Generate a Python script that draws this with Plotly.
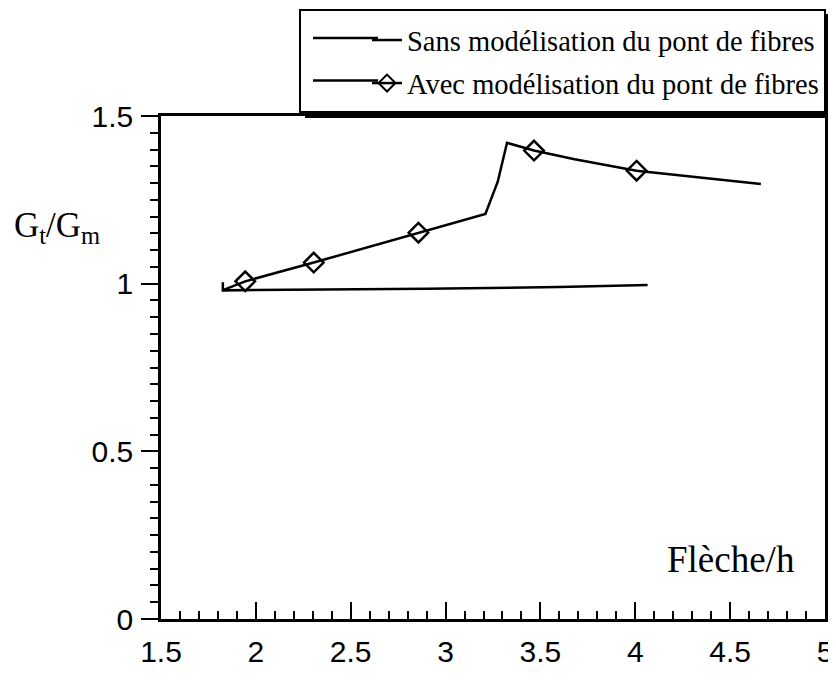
import plotly.graph_objects as go

# Data
sans_x = [1.826, 1.826, 2.9, 3.6, 4.065]
sans_y = [1.004, 0.980, 0.985, 0.990, 0.996]

avec_x = [1.826, 1.944, 2.305, 2.857, 3.210, 3.275, 3.324, 3.466, 3.680, 4.007, 4.662]
avec_y = [0.981, 1.007, 1.063, 1.152, 1.208, 1.304, 1.420, 1.397, 1.371, 1.337, 1.297]

diam_x = [1.944, 2.305, 2.857, 3.466, 4.007]
diam_y = [1.007, 1.063, 1.152, 1.397, 1.337]

x_ticks = [1.5, 2, 2.5, 3, 3.5, 4, 4.5, 5]
x_labels = ["1.5", "2", "2.5", "3", "3.5", "4", "4.5", "5"]
y_ticks = [0, 0.5, 1, 1.5]
y_labels = ["0", "0.5", "1", "1.5"]

legend_names = ["Sans modélisation du pont de fibres", "Avec modélisation du pont de fibres"]

# The page body has an 8px margin; keep the figure small enough that no
# scrollbar appears, and express positions in reference-image pixels.
OFF = 8
W, H = 836 - OFF, 660
PL, PR, PT, PB = 161, 825, 116, 619      # plot box in reference pixels
L, R, T, B = PL - OFF, W - (PR - OFF), PT - OFF, H - (PB - OFF)


def px2x(p):
    return (p - PL) / (PR - PL)


def py2y(p):
    return (PB - p) / (PB - PT)


fig = go.Figure()
fig.add_trace(go.Scatter(x=sans_x, y=sans_y, mode="lines",
                         line=dict(color="black", width=2.5),
                         name=legend_names[0], showlegend=True, legendgroup="a"))
fig.add_trace(go.Scatter(x=avec_x, y=avec_y, mode="lines",
                         line=dict(color="black", width=2.5),
                         showlegend=False, hoverinfo="skip"))
fig.add_trace(go.Scatter(x=diam_x, y=diam_y, mode="markers",
                         marker=dict(symbol="diamond-open", size=15, color="black",
                                     line=dict(width=2.5, color="black")),
                         showlegend=False))
fig.add_trace(go.Scatter(x=[None], y=[None], mode="lines+markers",
                         line=dict(color="black", width=2.5),
                         marker=dict(symbol="diamond-open", size=13, color="black",
                                     line=dict(width=2, color="black")),
                         name=legend_names[1], showlegend=True, legendgroup="b"))

# legend box with drop shadow
fig.add_shape(type="rect", xref="paper", yref="paper",
              x0=px2x(305), x1=px2x(830), y0=py2y(118), y1=py2y(14),
              fillcolor="black", line=dict(width=0), layer="above")
fig.add_shape(type="rect", xref="paper", yref="paper",
              x0=px2x(300), x1=px2x(825), y0=py2y(112), y1=py2y(10),
              fillcolor="white", line=dict(width=2, color="black"), layer="above")
# longer legend sample lines, as in the reference
for ry in (38, 80.5):
    fig.add_shape(type="line", xref="paper", yref="paper",
                  x0=px2x(313), x1=px2x(378), y0=py2y(ry), y1=py2y(ry),
                  line=dict(color="black", width=2.5), layer="above")

serif = "Liberation Serif, Times New Roman, serif"

fig.add_annotation(text="G<sub>t</sub>/G<sub>m</sub>", xref="paper", yref="paper",
                   x=px2x(12), y=py2y(228), xanchor="left", yanchor="middle",
                   showarrow=False,
                   font=dict(family=serif, size=35, color="black"))
fig.add_annotation(text="Flèche/h", xref="paper", yref="paper",
                   x=px2x(797), y=py2y(559), xanchor="right", yanchor="middle",
                   showarrow=False,
                   font=dict(family=serif, size=37, color="black"))

tickfont = dict(family="Liberation Sans, Arial, sans-serif", size=30, color="black")

fig.update_layout(
    width=W, height=H,
    margin=dict(l=L, r=R, t=T, b=B, pad=0, autoexpand=False),
    paper_bgcolor="white", plot_bgcolor="white",
    showlegend=True,
    legend=dict(x=px2x(367), y=py2y(15), xanchor="left", yanchor="top",
                bgcolor="rgba(0,0,0,0)", borderwidth=0,
                font=dict(family=serif, size=28.5, color="black"),
                traceorder="grouped", tracegroupgap=3, itemwidth=30),
    xaxis=dict(range=[1.5, 5], tickmode="array", tickvals=x_ticks, ticktext=x_labels,
               ticks="inside", ticklen=17, tickwidth=2, tickcolor="black",
               ticklabelstandoff=4, ticklabeloverflow="allow",
               showline=True, linecolor="black", linewidth=2.5, mirror=True,
               showgrid=False, zeroline=False, tickfont=tickfont,
               minor=dict(tickmode="linear", tick0=1.5, dtick=0.1, ticks="inside",
                          ticklen=8, tickwidth=2, tickcolor="black", showgrid=False)),
    yaxis=dict(range=[0, 1.5], tickmode="array", tickvals=y_ticks, ticktext=y_labels,
               ticks="outside", ticklen=17, tickwidth=2, tickcolor="black",
               ticklabelstandoff=2,
               showline=True, linecolor="black", linewidth=2.5, mirror=True,
               showgrid=False, zeroline=False, tickfont=tickfont,
               minor=dict(tickmode="linear", tick0=0, dtick=0.05, ticks="outside",
                          ticklen=8, tickwidth=2, tickcolor="black", showgrid=False)),
)

fig.write_html("out.html")
